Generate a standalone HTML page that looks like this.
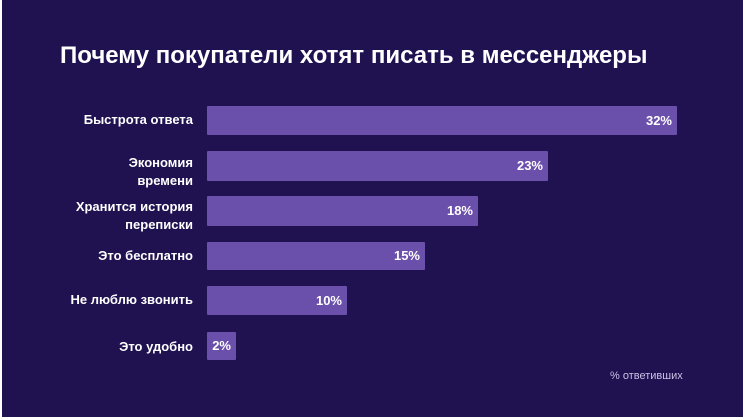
<!DOCTYPE html>
<html><head><meta charset="utf-8"><style>
body{margin:0;width:743px;height:417px;overflow:hidden;background:#fff;font-family:"Liberation Sans",sans-serif}
#c{position:absolute;left:2px;top:0;width:741px;height:417px;background:#201150}
h1{position:absolute;left:58px;top:42px;margin:0;color:#fff;font-size:24px;font-weight:bold;letter-spacing:0px;white-space:nowrap}
.l{position:absolute;right:550px;color:#fff;font-size:13px;font-weight:bold;text-align:right;line-height:18px}
.b{position:absolute;left:205px;background:#6a4fab;color:#fff;font-size:13px;font-weight:bold;text-align:right;box-sizing:border-box;padding-right:5px;border-radius:1px}
.n{position:absolute;left:608px;top:370px;color:#c9c2e6;font-size:11px}
</style></head><body><div id="c">
<h1>Почему покупатели хотят писать в мессенджеры</h1>
<div class="l" style="top:111px">Быстрота ответа</div>
<div class="b" style="top:106px;height:29px;line-height:29px;width:470px">32%</div>
<div class="l" style="top:154px">Экономия<br>времени</div>
<div class="b" style="top:151px;height:30px;line-height:30px;width:341px">23%</div>
<div class="l" style="top:198px">Хранится история<br>переписки</div>
<div class="b" style="top:196px;height:30px;line-height:30px;width:271px">18%</div>
<div class="l" style="top:247px">Это бесплатно</div>
<div class="b" style="top:242px;height:28px;line-height:28px;width:218px">15%</div>
<div class="l" style="top:291px">Не люблю звонить</div>
<div class="b" style="top:286px;height:29px;line-height:29px;width:140px">10%</div>
<div class="l" style="top:338px">Это удобно</div>
<div class="b" style="top:332px;height:28px;line-height:28px;width:29px">2%</div>
<div class="n">% ответивших</div>
</div></body></html>
